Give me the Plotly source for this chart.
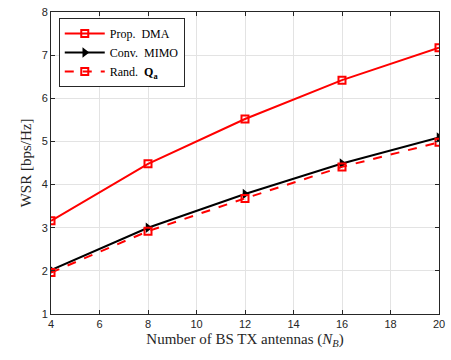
import plotly.graph_objects as go

x_antennas = [4, 8, 12, 16, 20]
wsr_prop_dma = [3.16, 4.48, 5.52, 6.42, 7.17]
wsr_conv_mimo = [2.02, 3.0, 3.78, 4.49, 5.09]
wsr_rand_qa = [1.96, 2.92, 3.68, 4.41, 4.98]
x_ticks = [4, 6, 8, 10, 12, 14, 16, 18, 20]
y_ticks = [1, 2, 3, 4, 5, 6, 7, 8]

fig = go.Figure()
fig.add_trace(go.Scatter(
    x=x_antennas, y=wsr_prop_dma, name="Prop.  DMA", mode="lines+markers",
    line=dict(color="#ff0000", width=2),
    marker=dict(symbol="square-open", size=7, color="#ff0000", line=dict(width=2, color="#ff0000")),
))
fig.add_trace(go.Scatter(
    x=x_antennas, y=wsr_conv_mimo, name="Conv.  MIMO", mode="lines+markers",
    line=dict(color="#000000", width=2),
    marker=dict(symbol="triangle-right", size=9, color="#000000"),
))
fig.add_trace(go.Scatter(
    x=x_antennas, y=wsr_rand_qa, name="Rand.  <b>Q</b><sub><b>a</b></sub>", mode="lines+markers",
    line=dict(color="#ff0000", width=2, dash="dash"),
    marker=dict(symbol="square-open", size=7, color="#ff0000", line=dict(width=2, color="#ff0000")),
))

axis_common = dict(
    showgrid=True, gridcolor="#e3e3e3", gridwidth=1,
    showline=True, linecolor="#262626", linewidth=1, mirror="ticks",
    ticks="inside", ticklen=4, tickcolor="#262626",
    tickfont=dict(family="Liberation Sans, Arial, sans-serif", size=11, color="#262626"),
    zeroline=False,
)
fig.update_layout(
    width=451, height=360,
    margin=dict(l=51, r=9, t=6, b=46),
    paper_bgcolor="white", plot_bgcolor="white",
    xaxis=dict(range=[4, 20], tickvals=x_ticks,
               title=dict(text="Number of BS TX antennas (<i>N</i><sub><i>B</i></sub>)",
                          font=dict(family="Liberation Serif, serif", size=15, color="#262626"),
                          standoff=4),
               **axis_common),
    yaxis=dict(range=[1, 8], tickvals=y_ticks,
               title=dict(text="WSR [bps/Hz]",
                          font=dict(family="Liberation Serif, serif", size=15, color="#262626"),
                          standoff=6),
               **axis_common),
    showlegend=True,
    legend=dict(x=0.02, y=0.98, xanchor="left", yanchor="top",
                bgcolor="white", bordercolor="#262626", borderwidth=1,
                font=dict(family="Liberation Serif, serif", size=12, color="#000000"),
                itemwidth=40, tracegroupgap=0),
)
fig.write_html("out.html")
